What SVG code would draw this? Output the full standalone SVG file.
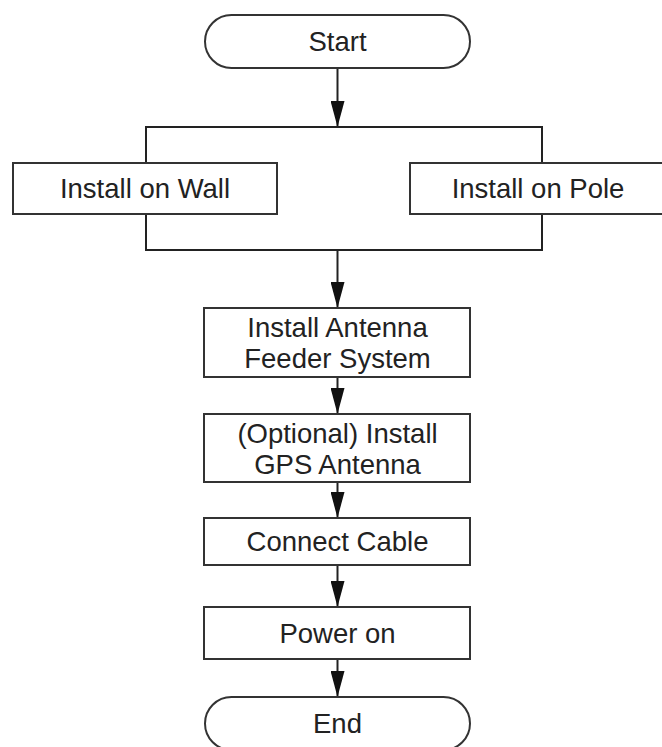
<svg xmlns="http://www.w3.org/2000/svg" width="662" height="747" viewBox="0 0 662 747">
<defs>
<marker id="ah" markerWidth="26" markerHeight="14" refX="26" refY="7" orient="auto" markerUnits="userSpaceOnUse" viewBox="0 0 26 14">
<path d="M0,0 L26,7 L0,14 Z" fill="#111"/>
</marker>
<style>
.box{fill:#fff;stroke:#333;stroke-width:2}
.t{font-family:"Liberation Sans",Arial,sans-serif;font-size:27.5px;fill:#222;text-anchor:middle}
.ln{fill:none;stroke:#222;stroke-width:2}
</style>
</defs>
<rect width="662" height="747" fill="#fff"/>
<g id="connectors">
<line class="ln" x1="337.5" y1="68" x2="337.5" y2="127" marker-end="url(#ah)"/>
<polyline class="ln" points="146,163 146,127 542,127 542,163"/>
<polyline class="ln" points="146,214 146,250 542,250 542,214"/>
<line class="ln" x1="337.5" y1="250" x2="337.5" y2="308" marker-end="url(#ah)"/>
<line class="ln" x1="337.5" y1="377" x2="337.5" y2="414" marker-end="url(#ah)"/>
<line class="ln" x1="337.5" y1="482" x2="337.5" y2="518" marker-end="url(#ah)"/>
<line class="ln" x1="337.5" y1="565" x2="337.5" y2="607" marker-end="url(#ah)"/>
<line class="ln" x1="337.5" y1="659" x2="337.5" y2="697" marker-end="url(#ah)"/>
</g>
<g id="start">
<rect class="box" x="205" y="15" width="265" height="53" rx="26.5"/>
<text class="t" x="337.5" y="51">Start</text>
</g>
<g id="wall">
<rect class="box" x="13" y="163" width="264" height="51"/>
<text class="t" x="145" y="198">Install on Wall</text>
</g>
<g id="pole">
<rect class="box" x="410" y="163" width="264" height="51"/>
<text class="t" x="538" y="198">Install on Pole</text>
</g>
<g id="antenna">
<rect class="box" x="204" y="308" width="266" height="69"/>
<text class="t" x="337.5" y="337">Install Antenna</text>
<text class="t" x="337.5" y="368">Feeder System</text>
</g>
<g id="gps">
<rect class="box" x="204" y="414" width="266" height="68"/>
<text class="t" x="337.5" y="443">(Optional) Install</text>
<text class="t" x="337.5" y="474">GPS Antenna</text>
</g>
<g id="cable">
<rect class="box" x="204" y="518" width="266" height="47"/>
<text class="t" x="337.5" y="551">Connect Cable</text>
</g>
<g id="power">
<rect class="box" x="204" y="607" width="266" height="52"/>
<text class="t" x="337.5" y="643">Power on</text>
</g>
<g id="end">
<rect class="box" x="205" y="697" width="265" height="53" rx="26.5"/>
<text class="t" x="337.5" y="733">End</text>
</g>
</svg>
